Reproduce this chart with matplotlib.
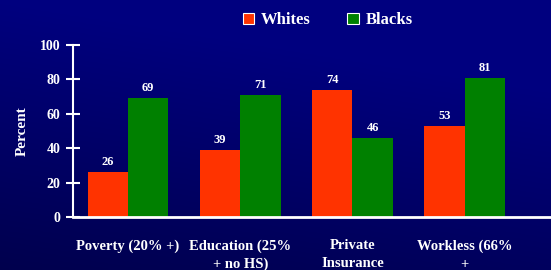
import numpy as np
import matplotlib
matplotlib.use('Agg')
import matplotlib.pyplot as plt
from matplotlib.patches import Patch

categories = ['Poverty (20% +)', 'Education (25%\n+ no HS)', 'Private\nInsurance', 'Workless (66%\n+']
whites = [26, 39, 74, 53]
blacks = [69, 71, 46, 81]
yticks = [0, 20, 40, 60, 80, 100]

red = '#FF3300'
green = '#008000'

plt.rcParams['font.family'] = ['Liberation Serif', 'DejaVu Serif']
plt.rcParams['font.weight'] = 'bold'

fig = plt.figure(figsize=(5.51, 2.70), dpi=100)

# background gradient, navy getting darker toward bottom-left
bg = fig.add_axes([0, 0, 1, 1], zorder=-10)
gx, gy = np.meshgrid(np.linspace(0, 1, 200), np.linspace(0, 1, 100))
shade = 0.35 + 0.65 * np.clip(1.0 - 0.6 * gy + 0.2 * gx, 0, 1)
img = np.zeros((100, 200, 3))
img[..., 2] = 0.5 * np.clip(shade, 0, 1.05)
bg.imshow(img, aspect='auto', extent=[0, 1, 0, 1], origin='upper')
bg.axis('off')

ax = fig.add_axes([0.1325, 0.196, 0.8675, 0.637])
ax.patch.set_alpha(0)

x = np.arange(len(categories))
w = 0.36
b1 = ax.bar(x - w / 2, whites, w, color=red, zorder=2)
b2 = ax.bar(x + w / 2, blacks, w, color=green, zorder=2)

for bars, vals in [(b1, whites), (b2, blacks)]:
    for b, v in zip(bars, vals):
        ax.annotate(str(v), (b.get_x() + b.get_width() / 2, v), xytext=(0, 3),
                    textcoords='offset points', ha='center', va='bottom',
                    color='white', fontsize=9, fontweight='bold')

ax.set_xlim(-0.49, 3.77)
ax.set_ylim(0, 100)
ax.set_yticks(yticks)
ax.set_xticks(x)
ax.set_xticklabels(categories, color='white', fontsize=10.5, fontweight='bold', linespacing=1.5)
ax.tick_params(axis='x', length=0, pad=16)
ax.tick_params(axis='y', direction='inout', length=10, width=1.5, colors='white',
               labelsize=10, pad=4)
for lab in ax.get_yticklabels():
    lab.set_fontweight('bold')

for s in ['top', 'right']:
    ax.spines[s].set_visible(False)
ax.spines['left'].set_color('white')
ax.spines['left'].set_linewidth(1.5)
ax.spines['bottom'].set_color('white')
ax.spines['bottom'].set_linewidth(2)
ax.spines['bottom'].set_zorder(3)

ax.set_ylabel('Percent', color='white', fontsize=11, fontweight='bold', labelpad=8)

handles = [Patch(facecolor=red, edgecolor='white', linewidth=0.8),
           Patch(facecolor=green, edgecolor='white', linewidth=0.8)]
fig.legend(handles, ['Whites', 'Blacks'], loc='center', bbox_to_anchor=(0.595, 0.925),
           ncol=2, frameon=False, fontsize=12, handlelength=0.7, handleheight=0.7,
           handletextpad=0.4, columnspacing=2.2, labelcolor='white')

fig.savefig('out.png', dpi=100)
